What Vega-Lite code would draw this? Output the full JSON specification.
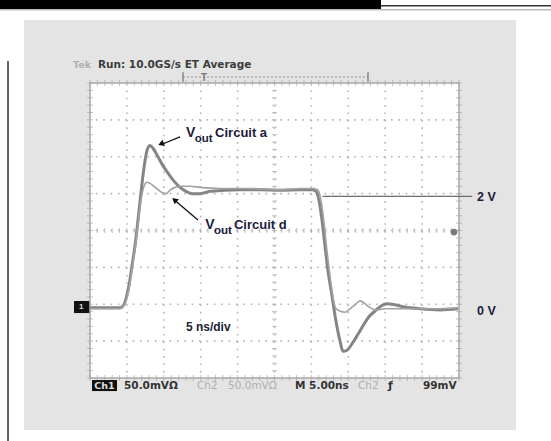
{
  "$schema": "https://vega.github.io/schema/vega-lite/v6.json",
  "width": 369,
  "height": 295,
  "autosize": {"type": "none"},
  "padding": {"left": 90, "top": 83, "right": 92, "bottom": 63},
  "background": "white",
  "config": {"view": {"stroke": null}, "axis": {"disable": true}, "font": "Liberation Sans"},
  "data": {"values": [{}]},
  "datasets": {
    "traces": [
      {"circuit": "a", "t": 0, "v": 0.04}, {"circuit": "a", "t": 2.71, "v": 0.04}, {"circuit": "a", "t": 4.07, "v": 0.04},
      {"circuit": "a", "t": 4.47, "v": 0.07}, {"circuit": "a", "t": 4.88, "v": 0.2}, {"circuit": "a", "t": 5.28, "v": 0.43},
      {"circuit": "a", "t": 5.69, "v": 0.78}, {"circuit": "a", "t": 6.1, "v": 1.13}, {"circuit": "a", "t": 6.5, "v": 1.58},
      {"circuit": "a", "t": 6.91, "v": 2.07}, {"circuit": "a", "t": 7.32, "v": 2.51}, {"circuit": "a", "t": 7.72, "v": 2.81},
      {"circuit": "a", "t": 8.13, "v": 2.9}, {"circuit": "a", "t": 8.54, "v": 2.85}, {"circuit": "a", "t": 9.08, "v": 2.73},
      {"circuit": "a", "t": 9.76, "v": 2.57}, {"circuit": "a", "t": 10.57, "v": 2.41}, {"circuit": "a", "t": 11.38, "v": 2.27},
      {"circuit": "a", "t": 12.2, "v": 2.16}, {"circuit": "a", "t": 13.01, "v": 2.09}, {"circuit": "a", "t": 13.82, "v": 2.05},
      {"circuit": "a", "t": 14.91, "v": 2.05}, {"circuit": "a", "t": 16.26, "v": 2.09}, {"circuit": "a", "t": 18.29, "v": 2.11},
      {"circuit": "a", "t": 20.33, "v": 2.12}, {"circuit": "a", "t": 23.04, "v": 2.12}, {"circuit": "a", "t": 25.75, "v": 2.11},
      {"circuit": "a", "t": 28.46, "v": 2.12}, {"circuit": "a", "t": 30.08, "v": 2.12}, {"circuit": "a", "t": 30.62, "v": 2.09},
      {"circuit": "a", "t": 31.03, "v": 1.93}, {"circuit": "a", "t": 31.44, "v": 1.58}, {"circuit": "a", "t": 31.84, "v": 1.13},
      {"circuit": "a", "t": 32.25, "v": 0.69}, {"circuit": "a", "t": 32.79, "v": 0.25}, {"circuit": "a", "t": 33.33, "v": -0.2},
      {"circuit": "a", "t": 33.88, "v": -0.55}, {"circuit": "a", "t": 34.28, "v": -0.73}, {"circuit": "a", "t": 34.82, "v": -0.71},
      {"circuit": "a", "t": 35.64, "v": -0.57}, {"circuit": "a", "t": 36.31, "v": -0.43}, {"circuit": "a", "t": 36.99, "v": -0.28},
      {"circuit": "a", "t": 37.8, "v": -0.12}, {"circuit": "a", "t": 38.62, "v": -0.02}, {"circuit": "a", "t": 39.43, "v": 0.07},
      {"circuit": "a", "t": 40.24, "v": 0.11}, {"circuit": "a", "t": 41.33, "v": 0.09}, {"circuit": "a", "t": 42.68, "v": 0.05},
      {"circuit": "a", "t": 44.72, "v": 0.02}, {"circuit": "a", "t": 47.43, "v": 0.0}, {"circuit": "a", "t": 49.86, "v": 0.02},
      {"circuit": "d", "t": 0, "v": 0.02}, {"circuit": "d", "t": 4.07, "v": 0.02}, {"circuit": "d", "t": 4.47, "v": 0.05},
      {"circuit": "d", "t": 4.88, "v": 0.16}, {"circuit": "d", "t": 5.28, "v": 0.37}, {"circuit": "d", "t": 5.69, "v": 0.73},
      {"circuit": "d", "t": 6.1, "v": 1.08}, {"circuit": "d", "t": 6.5, "v": 1.5}, {"circuit": "d", "t": 6.91, "v": 1.93},
      {"circuit": "d", "t": 7.32, "v": 2.18}, {"circuit": "d", "t": 7.72, "v": 2.25}, {"circuit": "d", "t": 8.13, "v": 2.23},
      {"circuit": "d", "t": 8.67, "v": 2.18}, {"circuit": "d", "t": 9.21, "v": 2.12}, {"circuit": "d", "t": 9.76, "v": 2.07},
      {"circuit": "d", "t": 10.3, "v": 2.05}, {"circuit": "d", "t": 10.84, "v": 2.11}, {"circuit": "d", "t": 11.52, "v": 2.16},
      {"circuit": "d", "t": 12.47, "v": 2.18}, {"circuit": "d", "t": 13.55, "v": 2.18}, {"circuit": "d", "t": 14.91, "v": 2.16},
      {"circuit": "d", "t": 17.62, "v": 2.14}, {"circuit": "d", "t": 21.68, "v": 2.14}, {"circuit": "d", "t": 25.75, "v": 2.12},
      {"circuit": "d", "t": 28.46, "v": 2.14}, {"circuit": "d", "t": 30.35, "v": 2.14}, {"circuit": "d", "t": 30.89, "v": 2.11},
      {"circuit": "d", "t": 31.3, "v": 1.93}, {"circuit": "d", "t": 31.71, "v": 1.54}, {"circuit": "d", "t": 32.11, "v": 1.04},
      {"circuit": "d", "t": 32.52, "v": 0.6}, {"circuit": "d", "t": 32.93, "v": 0.21}, {"circuit": "d", "t": 33.33, "v": 0.02},
      {"circuit": "d", "t": 33.88, "v": -0.02}, {"circuit": "d", "t": 34.55, "v": -0.04}, {"circuit": "d", "t": 35.23, "v": 0.02},
      {"circuit": "d", "t": 35.91, "v": 0.09}, {"circuit": "d", "t": 36.59, "v": 0.16}, {"circuit": "d", "t": 37.26, "v": 0.11},
      {"circuit": "d", "t": 37.94, "v": 0.04}, {"circuit": "d", "t": 38.75, "v": 0.0}, {"circuit": "d", "t": 39.97, "v": 0.02},
      {"circuit": "d", "t": 42.01, "v": 0.02}, {"circuit": "d", "t": 44.72, "v": 0.02}, {"circuit": "d", "t": 47.43, "v": 0.02},
      {"circuit": "d", "t": 49.86, "v": 0.04}
    ],
    "tgrid": [{"t": 5}, {"t": 10}, {"t": 15}, {"t": 20}, {"t": 25}, {"t": 30}, {"t": 35}, {"t": 40}, {"t": 45}],
    "vgrid": [{"v": -0.55}, {"v": 0.1}, {"v": 0.75}, {"v": 1.4}, {"v": 2.05}, {"v": 2.7}, {"v": 3.35}],
    "tminor": [
      {"t": 0}, {"t": 1}, {"t": 2}, {"t": 3}, {"t": 4}, {"t": 5}, {"t": 6}, {"t": 7}, {"t": 8}, {"t": 9},
      {"t": 10}, {"t": 11}, {"t": 12}, {"t": 13}, {"t": 14}, {"t": 15}, {"t": 16}, {"t": 17}, {"t": 18}, {"t": 19},
      {"t": 20}, {"t": 21}, {"t": 22}, {"t": 23}, {"t": 24}, {"t": 25}, {"t": 26}, {"t": 27}, {"t": 28}, {"t": 29},
      {"t": 30}, {"t": 31}, {"t": 32}, {"t": 33}, {"t": 34}, {"t": 35}, {"t": 36}, {"t": 37}, {"t": 38}, {"t": 39},
      {"t": 40}, {"t": 41}, {"t": 42}, {"t": 43}, {"t": 44}, {"t": 45}, {"t": 46}, {"t": 47}, {"t": 48}, {"t": 49}, {"t": 50}
    ],
    "vminor": [
      {"v": -1.2}, {"v": -1.07}, {"v": -0.94}, {"v": -0.81}, {"v": -0.68}, {"v": -0.55}, {"v": -0.42}, {"v": -0.29},
      {"v": -0.16}, {"v": -0.03}, {"v": 0.1}, {"v": 0.23}, {"v": 0.36}, {"v": 0.49}, {"v": 0.62}, {"v": 0.75},
      {"v": 0.88}, {"v": 1.01}, {"v": 1.14}, {"v": 1.27}, {"v": 1.4}, {"v": 1.53}, {"v": 1.66}, {"v": 1.79},
      {"v": 1.92}, {"v": 2.05}, {"v": 2.18}, {"v": 2.31}, {"v": 2.44}, {"v": 2.57}, {"v": 2.7}, {"v": 2.83},
      {"v": 2.96}, {"v": 3.09}, {"v": 3.22}, {"v": 3.35}, {"v": 3.48}, {"v": 3.61}, {"v": 3.74}, {"v": 3.87}, {"v": 4.0}
    ]
  },
  "layer": [
    {
      "description": "scope screen surround",
      "mark": {"type": "rect", "fill": "#e4e4e4"},
      "encoding": {
        "x": {"datum": -8.94, "type": "quantitative", "scale": {"domain": [0, 50], "nice": false, "zero": false}},
        "x2": {"datum": 57.72},
        "y": {"datum": 5.11, "type": "quantitative", "scale": {"domain": [-1.2, 4.0], "nice": false, "zero": false}},
        "y2": {"datum": -2.117}
      }
    },
    {
      "mark": {"type": "rect", "fill": "#000000"},
      "encoding": {"x": {"datum": -12.3}, "x2": {"datum": 39.43}, "y": {"datum": 5.47}, "y2": {"datum": 5.304}}
    },
    {
      "mark": {"type": "rule", "stroke": "#333333", "strokeWidth": 1.5},
      "encoding": {"x": {"datum": 39.43}, "x2": {"datum": 62.5}, "y": {"datum": 5.36}}
    },
    {
      "mark": {"type": "rule", "stroke": "#9a9a9a", "strokeWidth": 1},
      "encoding": {"x": {"datum": -12.3}, "x2": {"datum": 62.5}, "y": {"datum": 5.29}}
    },
    {
      "mark": {"type": "rule", "stroke": "#333333", "strokeWidth": 1.5},
      "encoding": {"x": {"datum": -11.11}, "y": {"datum": 4.387}, "y2": {"datum": -2.32}}
    },
    {
      "description": "graticule area",
      "mark": {"type": "rect", "fill": "#ffffff", "stroke": "#a8a8a8", "strokeWidth": 1.5},
      "encoding": {"x": {"datum": 0}, "x2": {"datum": 50}, "y": {"datum": 4.0}, "y2": {"datum": -1.2}}
    },
    {
      "data": {"name": "tgrid"},
      "mark": {"type": "rule", "stroke": "#b4b4b4", "strokeWidth": 1.6, "strokeDash": [1.6, 5.78]},
      "encoding": {"x": {"field": "t", "type": "quantitative"}}
    },
    {
      "data": {"name": "vgrid"},
      "mark": {"type": "rule", "stroke": "#b4b4b4", "strokeWidth": 1.6, "strokeDash": [1.6, 5.78]},
      "encoding": {"y": {"field": "v", "type": "quantitative"}}
    },
    {
      "data": {"name": "tminor"},
      "mark": {"type": "tick", "orient": "vertical", "color": "#aaaaaa", "thickness": 1, "size": 5},
      "encoding": {"x": {"field": "t", "type": "quantitative"}, "y": {"datum": 1.4}}
    },
    {
      "data": {"name": "vminor"},
      "mark": {"type": "tick", "orient": "horizontal", "color": "#aaaaaa", "thickness": 1, "size": 5},
      "encoding": {"y": {"field": "v", "type": "quantitative"}, "x": {"datum": 25}}
    },
    {
      "data": {"name": "tminor"},
      "mark": {"type": "tick", "orient": "vertical", "color": "#aaaaaa", "thickness": 1, "size": 6},
      "encoding": {"x": {"field": "t", "type": "quantitative"}, "y": {"datum": 4.0}}
    },
    {
      "data": {"name": "tminor"},
      "mark": {"type": "tick", "orient": "vertical", "color": "#aaaaaa", "thickness": 1, "size": 6},
      "encoding": {"x": {"field": "t", "type": "quantitative"}, "y": {"datum": -1.2}}
    },
    {
      "data": {"name": "vminor"},
      "mark": {"type": "tick", "orient": "horizontal", "color": "#aaaaaa", "thickness": 1, "size": 6},
      "encoding": {"y": {"field": "v", "type": "quantitative"}, "x": {"datum": 0}}
    },
    {
      "data": {"name": "vminor"},
      "mark": {"type": "tick", "orient": "horizontal", "color": "#aaaaaa", "thickness": 1, "size": 6},
      "encoding": {"y": {"field": "v", "type": "quantitative"}, "x": {"datum": 50}}
    },
    {
      "description": "2 V reference level",
      "mark": {"type": "rule", "stroke": "#6e6e6e", "strokeWidth": 1.3},
      "encoding": {"x": {"datum": 31.5}, "x2": {"datum": 51.8}, "y": {"datum": 2.0}}
    },
    {
      "data": {"name": "traces"},
      "transform": [{"filter": "datum.circuit === 'a'"}],
      "mark": {"type": "line", "interpolate": "monotone", "stroke": "#858585", "strokeWidth": 3},
      "encoding": {"x": {"field": "t", "type": "quantitative"}, "y": {"field": "v", "type": "quantitative"}}
    },
    {
      "data": {"name": "traces"},
      "transform": [{"filter": "datum.circuit === 'd'"}],
      "mark": {"type": "line", "interpolate": "monotone", "stroke": "#a2a2a2", "strokeWidth": 1.6},
      "encoding": {"x": {"field": "t", "type": "quantitative"}, "y": {"field": "v", "type": "quantitative"}}
    },
    {
      "description": "channel 1 ground marker",
      "mark": {"type": "rect", "fill": "#111111"},
      "encoding": {"x": {"datum": -2.17}, "x2": {"datum": -0.1}, "y": {"datum": 0.157}, "y2": {"datum": -0.055}}
    },
    {
      "mark": {"type": "text", "text": "1", "color": "#dddddd", "fontSize": 8, "fontWeight": "bold", "align": "center", "baseline": "middle"},
      "encoding": {"x": {"datum": -1.2}, "y": {"datum": 0.05}}
    },
    {
      "description": "trigger level marker",
      "mark": {"type": "point", "filled": true, "color": "#7a7a7a", "size": 45, "opacity": 1},
      "encoding": {"x": {"datum": 49.32}, "y": {"datum": 1.373}}
    },
    {
      "mark": {"type": "rule", "stroke": "#8a8a8a", "strokeWidth": 1, "strokeDash": [2, 2]},
      "encoding": {"x": {"datum": 12.6}, "x2": {"datum": 37.67}, "y": {"datum": 4.105}}
    },
    {
      "mark": {"type": "rule", "stroke": "#777777", "strokeWidth": 1.3},
      "encoding": {"x": {"datum": 12.6}, "y": {"datum": 4.19}, "y2": {"datum": 4.02}}
    },
    {
      "mark": {"type": "rule", "stroke": "#777777", "strokeWidth": 1.3},
      "encoding": {"x": {"datum": 37.67}, "y": {"datum": 4.19}, "y2": {"datum": 4.02}}
    },
    {
      "mark": {"type": "text", "text": "T", "color": "#777777", "fontSize": 10, "fontWeight": "bold", "align": "center", "baseline": "alphabetic"},
      "encoding": {"x": {"datum": 15.45}, "y": {"datum": 4.03}}
    },
    {
      "description": "acquisition status line",
      "mark": {"type": "text", "text": "Tek", "color": "#b0b0b0", "font": "DejaVu Sans", "fontSize": 9.5, "fontWeight": "bold", "align": "left", "baseline": "alphabetic"},
      "encoding": {"x": {"datum": -2.3}, "y": {"datum": 4.264}}
    },
    {
      "mark": {"type": "text", "text": "Run: 10.0GS/s ET Average", "color": "#3c3c3c", "font": "DejaVu Sans", "fontSize": 10.5, "fontWeight": "bold", "align": "left", "baseline": "alphabetic"},
      "encoding": {"x": {"datum": 1.08}, "y": {"datum": 4.264}}
    },
    {
      "description": "channel and timebase readout",
      "mark": {"type": "rect", "fill": "#111111"},
      "encoding": {"x": {"datum": 0.27}, "x2": {"datum": 3.66}, "y": {"datum": -1.236}, "y2": {"datum": -1.43}}
    },
    {
      "mark": {"type": "text", "text": "Ch1", "color": "#e0e0e0", "font": "DejaVu Sans", "fontSize": 9.5, "fontWeight": "bold", "align": "center", "baseline": "alphabetic"},
      "encoding": {"x": {"datum": 1.96}, "y": {"datum": -1.39}}
    },
    {
      "mark": {"type": "text", "text": "50.0mVΩ", "color": "#333333", "font": "DejaVu Sans", "fontSize": 10.5, "fontWeight": "bold", "align": "left", "baseline": "alphabetic"},
      "encoding": {"x": {"datum": 4.61}, "y": {"datum": -1.39}}
    },
    {
      "mark": {"type": "text", "text": "Ch2", "color": "#b0b0b0", "font": "DejaVu Sans", "fontSize": 10.5, "align": "left", "baseline": "alphabetic"},
      "encoding": {"x": {"datum": 14.5}, "y": {"datum": -1.39}}
    },
    {
      "mark": {"type": "text", "text": "50.0mVΩ", "color": "#b0b0b0", "font": "DejaVu Sans", "fontSize": 10.5, "align": "left", "baseline": "alphabetic"},
      "encoding": {"x": {"datum": 18.7}, "y": {"datum": -1.39}}
    },
    {
      "mark": {"type": "text", "text": "M 5.00ns", "color": "#333333", "font": "DejaVu Sans", "fontSize": 10.5, "fontWeight": "bold", "align": "left", "baseline": "alphabetic"},
      "encoding": {"x": {"datum": 27.78}, "y": {"datum": -1.39}}
    },
    {
      "mark": {"type": "text", "text": "Ch2", "color": "#b0b0b0", "font": "DejaVu Sans", "fontSize": 10.5, "align": "left", "baseline": "alphabetic"},
      "encoding": {"x": {"datum": 36.31}, "y": {"datum": -1.39}}
    },
    {
      "mark": {"type": "text", "text": "ƒ", "color": "#333333", "font": "DejaVu Sans", "fontSize": 11, "fontWeight": "bold", "align": "left", "baseline": "alphabetic"},
      "encoding": {"x": {"datum": 40.38}, "y": {"datum": -1.39}}
    },
    {
      "mark": {"type": "text", "text": "99mV", "color": "#333333", "font": "DejaVu Sans", "fontSize": 10.5, "fontWeight": "bold", "align": "left", "baseline": "alphabetic"},
      "encoding": {"x": {"datum": 45.12}, "y": {"datum": -1.39}}
    },
    {
      "description": "annotation for circuit a",
      "mark": {"type": "text", "text": "V", "color": "#1c1c3c", "fontSize": 14, "fontWeight": "bold", "align": "left", "baseline": "alphabetic"},
      "encoding": {"x": {"datum": 13.0}, "y": {"datum": 3.05}}
    },
    {
      "mark": {"type": "text", "text": "out", "color": "#1c1c3c", "fontSize": 11.5, "fontWeight": "bold", "align": "left", "baseline": "alphabetic"},
      "encoding": {"x": {"datum": 14.2}, "y": {"datum": 2.96}}
    },
    {
      "mark": {"type": "text", "text": "Circuit a", "color": "#1c1c3c", "fontSize": 13, "fontWeight": "bold", "align": "left", "baseline": "alphabetic"},
      "encoding": {"x": {"datum": 16.95}, "y": {"datum": 3.05}}
    },
    {
      "mark": {"type": "rule", "stroke": "#111111", "strokeWidth": 1.3},
      "encoding": {"x": {"datum": 12.2}, "y": {"datum": 3.05}, "x2": {"datum": 9.76}, "y2": {"datum": 2.92}}
    },
    {
      "mark": {"type": "point", "shape": "triangle-up", "filled": true, "color": "#111111", "size": 45, "angle": 248, "opacity": 1},
      "encoding": {"x": {"datum": 9.62}, "y": {"datum": 2.925}}
    },
    {
      "description": "annotation for circuit d",
      "mark": {"type": "text", "text": "V", "color": "#1c1c3c", "fontSize": 14, "fontWeight": "bold", "align": "left", "baseline": "alphabetic"},
      "encoding": {"x": {"datum": 15.6}, "y": {"datum": 1.43}}
    },
    {
      "mark": {"type": "text", "text": "out", "color": "#1c1c3c", "fontSize": 11.5, "fontWeight": "bold", "align": "left", "baseline": "alphabetic"},
      "encoding": {"x": {"datum": 16.8}, "y": {"datum": 1.34}}
    },
    {
      "mark": {"type": "text", "text": "Circuit d", "color": "#1c1c3c", "fontSize": 13, "fontWeight": "bold", "align": "left", "baseline": "alphabetic"},
      "encoding": {"x": {"datum": 19.5}, "y": {"datum": 1.43}}
    },
    {
      "mark": {"type": "rule", "stroke": "#111111", "strokeWidth": 1.3},
      "encoding": {"x": {"datum": 14.63}, "y": {"datum": 1.585}, "x2": {"datum": 11.6}, "y2": {"datum": 1.92}}
    },
    {
      "mark": {"type": "point", "shape": "triangle-up", "filled": true, "color": "#111111", "size": 45, "angle": 310, "opacity": 1},
      "encoding": {"x": {"datum": 11.45}, "y": {"datum": 1.94}}
    },
    {
      "mark": {"type": "text", "text": "2 V", "color": "#1c1c3c", "fontSize": 12.5, "fontWeight": "bold", "align": "left", "baseline": "alphabetic"},
      "encoding": {"x": {"datum": 52.44}, "y": {"datum": 1.92}}
    },
    {
      "mark": {"type": "text", "text": "0 V", "color": "#1c1c3c", "fontSize": 12.5, "fontWeight": "bold", "align": "left", "baseline": "alphabetic"},
      "encoding": {"x": {"datum": 52.44}, "y": {"datum": -0.09}}
    },
    {
      "mark": {"type": "text", "text": "5 ns/div", "color": "#222233", "fontSize": 12, "fontWeight": "bold", "align": "left", "baseline": "alphabetic"},
      "encoding": {"x": {"datum": 13.0}, "y": {"datum": -0.37}}
    }
  ]
}
